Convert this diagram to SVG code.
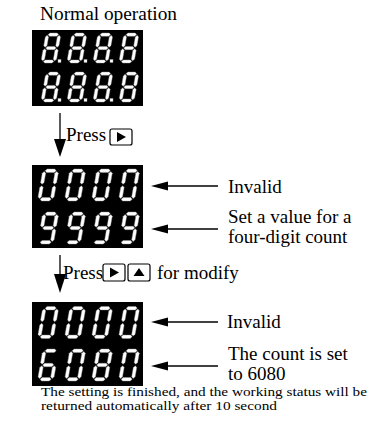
<svg xmlns="http://www.w3.org/2000/svg" width="375" height="424" viewBox="0 0 375 424" font-family="'Liberation Serif', 'DejaVu Serif', serif">
<style>
text{font-family:'Liberation Serif','DejaVu Serif',serif;fill:#000}
.lbl{font-size:19px}
.note{font-size:13px}
.box{fill:#000}
.seg{fill:#fff;stroke:#9a9a9a;stroke-width:0.4}
.ln{stroke:#000;stroke-width:1.3;fill:none}
.ah{fill:#000}
.btn{fill:#fff;stroke:#000;stroke-width:1.2}
</style>
<defs>
<path id="sh" d="M0,0 l1.7,-1.7 h7.6 l1.7,1.7 l-1.7,1.7 h-7.6 z"/>
<path id="sv" d="M0,0 l1.7,1.7 v9.3 l-1.7,1.7 l-1.7,-1.7 v-9.3 z"/>
<g id="d8" class="seg">
<use href="#sh" x="2.5" y="1.7"/><use href="#sv" x="14.3" y="2.5"/><use href="#sv" x="14.3" y="16.8"/><use href="#sh" x="2.5" y="30.3"/><use href="#sv" x="1.7" y="16.8"/><use href="#sv" x="1.7" y="2.5"/><use href="#sh" x="2.5" y="16"/>
</g>
<g id="d0" class="seg">
<use href="#sh" x="2.5" y="1.7"/><use href="#sv" x="14.3" y="2.5"/><use href="#sv" x="14.3" y="16.8"/><use href="#sh" x="2.5" y="30.3"/><use href="#sv" x="1.7" y="16.8"/><use href="#sv" x="1.7" y="2.5"/>
</g>
<g id="d9" class="seg">
<use href="#sh" x="2.5" y="1.7"/><use href="#sv" x="14.3" y="2.5"/><use href="#sv" x="14.3" y="16.8"/><use href="#sh" x="2.5" y="30.3"/><use href="#sv" x="1.7" y="2.5"/><use href="#sh" x="2.5" y="16"/>
</g>
<g id="d6" class="seg">
<use href="#sh" x="2.5" y="1.7"/><use href="#sv" x="14.3" y="16.8"/><use href="#sh" x="2.5" y="30.3"/><use href="#sv" x="1.7" y="16.8"/><use href="#sv" x="1.7" y="2.5"/><use href="#sh" x="2.5" y="16"/>
</g>
<path id="tri-r" d="M0,0 v10 l9,-5 z"/>
<path id="tri-u" d="M0,0 h11 l-5.5,-8 z"/>
</defs>

<g id="title">
<text class="lbl" x="40" y="20" textLength="137" lengthAdjust="spacingAndGlyphs">Normal operation</text>
</g>

<g id="display-normal">
<rect class="box" x="32" y="30" width="111" height="76"/>
<use href="#d8" transform="translate(46,33) skewX(-10) scale(0.95,0.94)"/>
<use href="#d8" transform="translate(72,33) skewX(-10) scale(0.95,0.94)"/>
<use href="#d8" transform="translate(98,33) skewX(-10) scale(0.95,0.94)"/>
<use href="#d8" transform="translate(124,33) skewX(-10) scale(0.95,0.94)"/>
<use href="#d8" transform="translate(46,72) skewX(-10) scale(0.95,0.94)"/>
<use href="#d8" transform="translate(72,72) skewX(-10) scale(0.95,0.94)"/>
<use href="#d8" transform="translate(98,72) skewX(-10) scale(0.95,0.94)"/>
<use href="#d8" transform="translate(124,72) skewX(-10) scale(0.95,0.94)"/>
<g class="seg">
<rect x="58" y="59.5" width="3" height="3"/><rect x="84" y="59.5" width="3" height="3"/><rect x="110" y="59.5" width="3" height="3"/>
<rect x="58" y="98.5" width="3" height="3"/><rect x="84" y="98.5" width="3" height="3"/><rect x="110" y="98.5" width="3" height="3"/>
</g>
</g>

<g id="step1-label">
<text class="lbl" x="66" y="141">Press</text>
<rect class="btn" x="110" y="129" width="22" height="16" rx="2"/>
<use href="#tri-r" x="117" y="132"/>
</g>

<g id="display-setting">
<rect class="box" x="32" y="165" width="111" height="83"/>
<use href="#d0" transform="translate(43,169) skewX(-10)"/>
<use href="#d0" transform="translate(70,169) skewX(-10)"/>
<use href="#d0" transform="translate(97,169) skewX(-10)"/>
<use href="#d0" transform="translate(124,169) skewX(-10)"/>
<use href="#d9" transform="translate(43,212) skewX(-10)"/>
<use href="#d9" transform="translate(70,212) skewX(-10)"/>
<use href="#d9" transform="translate(97,212) skewX(-10)"/>
<use href="#d9" transform="translate(124,212) skewX(-10)"/>
</g>

<g id="setting-labels">
<text class="lbl" x="228" y="193">Invalid</text>
<text class="lbl" x="228" y="223">Set a value for a</text>
<text class="lbl" x="228" y="243">four-digit count</text>
</g>

<g id="step2-label">
<text class="lbl" x="63" y="279">Press</text>
<rect class="btn" x="103" y="264" width="22" height="17" rx="2"/>
<use href="#tri-r" x="110" y="267.5"/>
<rect class="btn" x="128" y="264" width="22" height="17" rx="2"/>
<use href="#tri-u" x="133.5" y="276"/>
<text class="lbl" x="157" y="279">for modify</text>
</g>

<g id="display-modified">
<rect class="box" x="32" y="302" width="111" height="84"/>
<use href="#d0" transform="translate(43,306.5) skewX(-10)"/>
<use href="#d0" transform="translate(70,306.5) skewX(-10)"/>
<use href="#d0" transform="translate(97,306.5) skewX(-10)"/>
<use href="#d0" transform="translate(124,306.5) skewX(-10)"/>
<use href="#d6" transform="translate(43,349) skewX(-10)"/>
<use href="#d0" transform="translate(70,349) skewX(-10)"/>
<use href="#d8" transform="translate(97,349) skewX(-10)"/>
<use href="#d0" transform="translate(124,349) skewX(-10)"/>
</g>

<g id="modified-labels">
<text class="lbl" x="227" y="328">Invalid</text>
<text class="lbl" x="228" y="360">The count is set</text>
<text class="lbl" x="228" y="380">to 6080</text>
</g>

<g id="footer">
<text class="note" x="41" y="396" textLength="326" lengthAdjust="spacingAndGlyphs">The setting is finished, and the working status will be</text>
<text class="note" x="41" y="410" textLength="236" lengthAdjust="spacingAndGlyphs">returned automatically after 10 second</text>
</g>

<g id="connectors">
<line class="ln" x1="60" y1="113" x2="60" y2="141"/>
<polygon class="ah" points="54,139 66,139 60,157"/>
<line class="ln" x1="60" y1="255" x2="60" y2="276"/>
<polygon class="ah" points="54,274 66,274 60,293"/>
<line class="ln" x1="166" y1="186" x2="218" y2="186"/>
<polygon class="ah" points="151,186 168,181.5 168,190.5"/>
<line class="ln" x1="166" y1="229" x2="218" y2="229"/>
<polygon class="ah" points="151,229 168,224.5 168,233.5"/>
<line class="ln" x1="166" y1="322" x2="218" y2="322"/>
<polygon class="ah" points="151,322 168,317.5 168,326.5"/>
<line class="ln" x1="166" y1="366" x2="218" y2="366"/>
<polygon class="ah" points="151,366 168,361.5 168,370.5"/>
</g>
</svg>
